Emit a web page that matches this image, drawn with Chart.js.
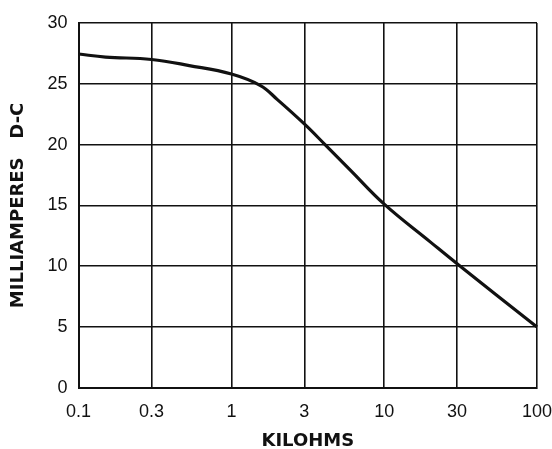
<!DOCTYPE html>
<html>
<head>
<meta charset="utf-8">
<style>
  html, body { margin: 0; padding: 0; background: #fff; }
  #wrap { width: 552px; height: 449px; }
</style>
</head>
<body>
<div id="wrap">
    <canvas id="myChart"></canvas>
</div>
<script src="https://cdn.jsdelivr.net/npm/chart.js"></script>
<script>
    // kilohms vs milliamperes d-c
    var kilohms = [0.1, 0.15, 0.3, 0.53, 1, 1.55, 2, 3, 4.1, 6, 10, 20, 30, 100];
    var milliamps = [27.45, 27.2, 27.0, 26.5, 25.8, 24.85, 23.7, 21.7, 20.0, 17.9, 15.1, 12.0, 10.2, 5.0];
    var xTicks = [0.1, 0.3, 1, 3, 10, 30, 100];
    var xTickLabels = ['0.1', '0.3', '1', '3', '10', '30', '100'];

    var points = [];
    for (var i = 0; i < kilohms.length; i++) {
        points.push({x: kilohms[i], y: milliamps[i]});
    }

    Chart.defaults.font.family = "'Liberation Sans', Arial, sans-serif";
    Chart.defaults.color = '#111';

    var titleFont = {family: "'DejaVu Sans', sans-serif", size: 18, weight: 'bold'};

    // let the end labels hang over the plot edge, like the printed graph
    function noOverhang(scale) {
        scale.paddingLeft = 0;
        scale.paddingRight = 0;
        scale.paddingTop = 0;
        scale.paddingBottom = 0;
    }

    const ctx = document.getElementById('myChart');
    new Chart(ctx, {
        type: 'line',
        data: {
            datasets: [{
                data: points,
                borderColor: '#111',
                borderWidth: 3.2,
                pointRadius: 0,
                tension: 0.4,
                clip: false
            }]
        },
        options: {
            responsive: true,
            maintainAspectRatio: false,
            animation: false,
            layout: {
                padding: {left: 8, right: 15, top: 23, bottom: 0}
            },
            scales: {
                x: {
                    type: 'logarithmic',
                    min: 0.1,
                    max: 100,
                    afterBuildTicks: function(axis) {
                        axis.ticks = xTicks.map(function(v){ return {value: v}; });
                    },
                    afterFit: noOverhang,
                    ticks: {
                        autoSkip: false,
                        maxRotation: 0,
                        padding: 13,
                        font: {size: 18},
                        callback: function(value) {
                            var k = xTicks.indexOf(value);
                            return k >= 0 ? xTickLabels[k] : '';
                        }
                    },
                    grid: {color: '#111', lineWidth: 1.6, drawTicks: false},
                    border: {color: '#111', width: 2},
                    title: {
                        display: true,
                        text: 'KILOHMS',
                        font: titleFont,
                        padding: {top: -5, bottom: -3}
                    }
                },
                y: {
                    min: 0,
                    max: 30,
                    afterFit: noOverhang,
                    ticks: {
                        stepSize: 5,
                        padding: 11,
                        font: {size: 18}
                    },
                    grid: {color: '#111', lineWidth: 1.6, drawTicks: false},
                    border: {color: '#111', width: 2},
                    title: {
                        display: true,
                        text: 'MILLIAMPERES   D-C',
                        font: titleFont,
                        padding: {top: 0, bottom: 7}
                    }
                }
            },
            plugins: {
                legend: {display: false},
                tooltip: {enabled: false}
            }
        }
    });
</script>
</body>
</html>
